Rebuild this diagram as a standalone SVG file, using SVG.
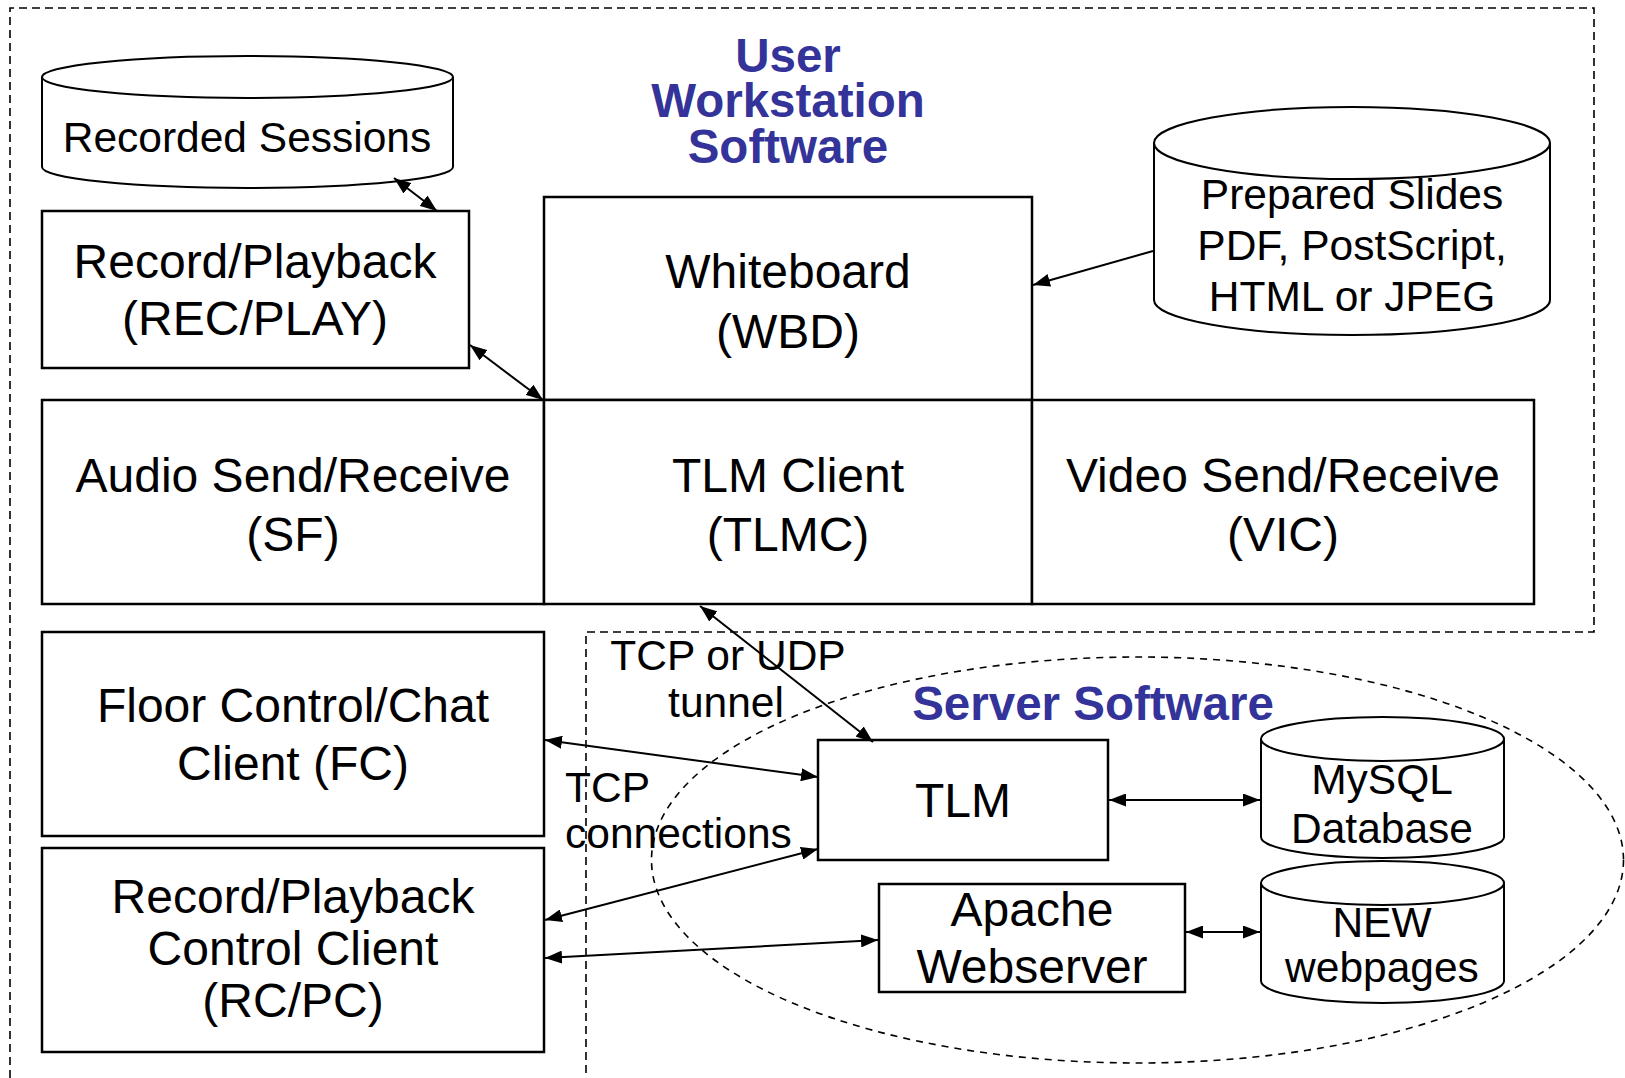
<svg xmlns="http://www.w3.org/2000/svg" width="1625" height="1078" viewBox="0 0 1625 1078">
<style>
  .box { fill: #ffffff; stroke: #000; stroke-width: 2.5; }
  .cyl { fill: #ffffff; stroke: #000; stroke-width: 2; }
  .dash { fill: none; stroke: #000; stroke-width: 1.6; stroke-dasharray: 8 5; }
  .conn { fill: none; stroke: #000; stroke-width: 2; marker-start: url(#ah); marker-end: url(#ah); }
  .one { fill: none; stroke: #000; stroke-width: 2; marker-end: url(#ah); }
  text { font-family: "Liberation Sans", Arial, sans-serif; fill: #000; text-anchor: middle; }
  .t47 { font-size: 48px; }
  .t42 { font-size: 42.5px; }
  .title { font-size: 47.5px; font-weight: bold; fill: #333399; }
  .left { text-anchor: start; }
</style>
<defs>
  <marker id="ah" markerUnits="userSpaceOnUse" markerWidth="17" markerHeight="13" refX="17" refY="6.5" orient="auto-start-reverse">
    <path d="M0,0 L17,6.5 L0,13 z" fill="#000"/>
  </marker>
</defs>
<rect width="1625" height="1078" fill="#ffffff"/>

<g id="boundaries">
  <path class="dash" d="M10,1078 L10,8 L1594,8 L1594,632 L586,632 L586,1078"/>
  <ellipse class="dash" cx="1137.5" cy="860" rx="486" ry="203" style="stroke-dasharray: 7 6"/>
</g>

<g id="labels">
  <text class="title" x="788" y="72">User</text>
  <text class="title" x="788" y="117">Workstation</text>
  <text class="title" x="788" y="163">Software</text>
  <text class="title" x="1093" y="720">Server Software</text>
  <text class="t42" x="728" y="670">TCP or UDP</text>
  <text class="t42" x="726" y="717">tunnel</text>
  <text class="t42 left" x="565" y="802">TCP</text>
  <text class="t42 left" x="565" y="848">connections</text>
</g>

<g id="recorded-sessions">
  <path class="cyl" d="M42,77 L42,167 A205.5,21 0 0 0 453,167 L453,77"/>
  <ellipse class="cyl" cx="247.5" cy="77" rx="205.5" ry="21"/>
  <text class="t42" x="247" y="152">Recorded Sessions</text>
</g>

<g id="rec-play">
  <rect class="box" x="42" y="211" width="427" height="157"/>
  <text class="t47" x="255" y="278">Record/Playback</text>
  <text class="t47" x="255" y="335">(REC/PLAY)</text>
</g>

<g id="whiteboard">
  <rect class="box" x="544" y="197" width="488" height="203"/>
  <text class="t47" x="788" y="288">Whiteboard</text>
  <text class="t47" x="788" y="348">(WBD)</text>
</g>

<g id="prepared-slides">
  <path class="cyl" d="M1154,143 L1154,300 A198,35 0 0 0 1550,300 L1550,143"/>
  <ellipse class="cyl" cx="1352" cy="143" rx="198" ry="36"/>
  <text class="t42" x="1352" y="209">Prepared Slides</text>
  <text class="t42" x="1352" y="260">PDF, PostScript,</text>
  <text class="t42" x="1352" y="311">HTML or JPEG</text>
</g>

<g id="audio">
  <rect class="box" x="42" y="400" width="502" height="204"/>
  <text class="t47" x="293" y="492">Audio Send/Receive</text>
  <text class="t47" x="293" y="551">(SF)</text>
</g>

<g id="tlm-client">
  <rect class="box" x="544" y="400" width="488" height="204"/>
  <text class="t47" x="788" y="492">TLM Client</text>
  <text class="t47" x="788" y="551">(TLMC)</text>
</g>

<g id="video">
  <rect class="box" x="1032" y="400" width="502" height="204"/>
  <text class="t47" x="1283" y="492">Video Send/Receive</text>
  <text class="t47" x="1283" y="551">(VIC)</text>
</g>

<g id="floor-control">
  <rect class="box" x="42" y="632" width="502" height="204"/>
  <text class="t47" x="293" y="722">Floor Control/Chat</text>
  <text class="t47" x="293" y="780">Client (FC)</text>
</g>

<g id="rcpc">
  <rect class="box" x="42" y="848" width="502" height="204"/>
  <text class="t47" x="293" y="913">Record/Playback</text>
  <text class="t47" x="293" y="965">Control Client</text>
  <text class="t47" x="293" y="1017">(RC/PC)</text>
</g>

<g id="tlm">
  <rect class="box" x="818" y="740" width="290" height="120"/>
  <text class="t47" x="963" y="817">TLM</text>
</g>

<g id="apache">
  <rect class="box" x="879" y="884" width="306" height="108"/>
  <text class="t47" x="1032" y="926">Apache</text>
  <text class="t47" x="1032" y="983">Webserver</text>
</g>

<g id="mysql">
  <path class="cyl" d="M1261,739 L1261,837 A121.5,21 0 0 0 1504,837 L1504,739"/>
  <ellipse class="cyl" cx="1382.5" cy="739" rx="121.5" ry="22"/>
  <text class="t42" x="1382" y="794">MySQL</text>
  <text class="t42" x="1382" y="843">Database</text>
</g>

<g id="new-webpages">
  <path class="cyl" d="M1261,883 L1261,981 A121.5,22 0 0 0 1504,981 L1504,883"/>
  <ellipse class="cyl" cx="1382.5" cy="883" rx="121.5" ry="22"/>
  <text class="t42" x="1382" y="937">NEW</text>
  <text class="t42" x="1382" y="982">webpages</text>
</g>

<g id="connectors">
  <line class="conn" x1="394" y1="178" x2="437" y2="211"/>
  <line class="conn" x1="470" y1="345" x2="543" y2="400"/>
  <line class="one" x1="1153" y1="251" x2="1033" y2="285"/>
  <line class="conn" x1="700" y1="606" x2="873" y2="742"/>
  <line class="conn" x1="545" y1="740" x2="818" y2="777"/>
  <line class="conn" x1="545" y1="920" x2="818" y2="849"/>
  <line class="conn" x1="545" y1="958" x2="878" y2="940"/>
  <line class="conn" x1="1109" y1="800" x2="1260" y2="800"/>
  <line class="conn" x1="1186" y1="932" x2="1260" y2="932"/>
</g>
</svg>
